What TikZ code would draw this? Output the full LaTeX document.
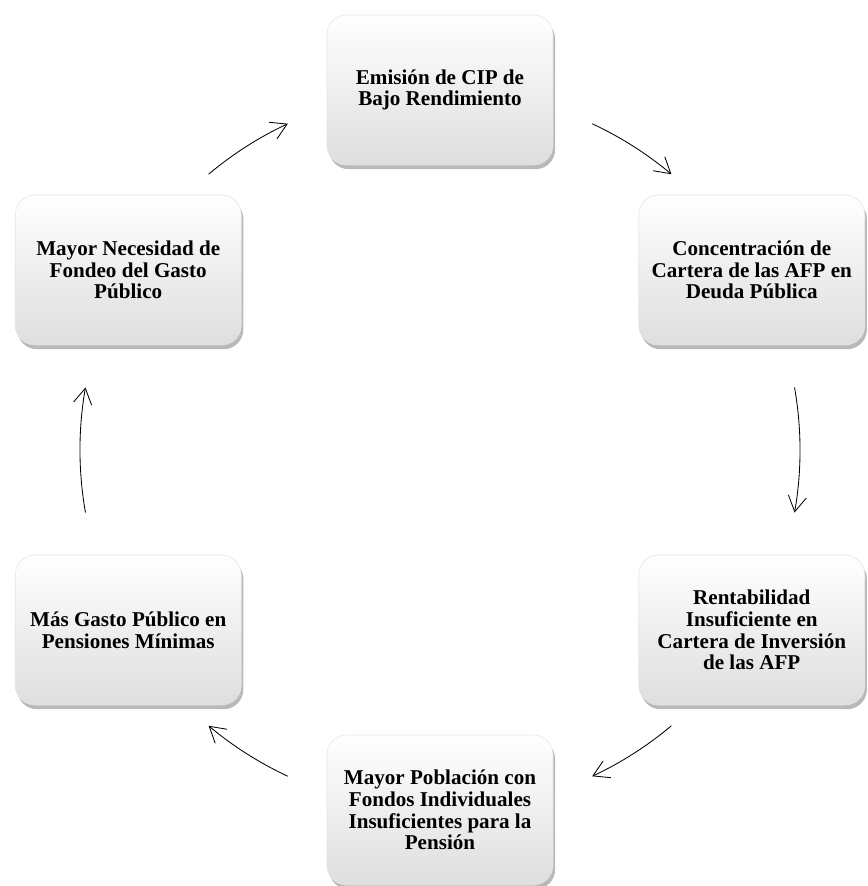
\documentclass[tikz,border=0pt]{standalone}
\usepackage{fontspec}
\setmainfont{Liberation Serif}
\usepackage{tikz}
\usetikzlibrary{arrows.meta,shadows,calc}
\definecolor{boxgray}{RGB}{222,222,222}

\begin{document}
\begin{tikzpicture}[
 stage/.style={rectangle,rounded corners=14pt,minimum width=5.65cm,minimum height=3.75cm,align=center,font=\fontsize{15}{15.5}\selectfont\bfseries,top color=white,middle color=white,bottom color=boxgray,draw=black!10,drop shadow={shadow xshift=1.5pt,shadow yshift=-3pt,opacity=.55}},
 cyc/.style={-{Straight Barb[length=11pt,width=13pt]},line width=0.6pt}]
\useasboundingbox (-11,-10.9) rectangle (10.675,11.25);
\coordinate (ctr) at (0,0);
\node[stage] (emis) at (90:9) {Emisión de CIP de\\Bajo Rendimiento};
\node[stage] (conc) at (30:9) {Concentración de\\Cartera de las AFP en\\Deuda Pública};
\node[stage] (rent) at (-30:9) {Rentabilidad\\Insuficiente en\\Cartera de Inversión\\de las AFP};
\node[stage] (pobl) at (-90:9) {Mayor Población con\\Fondos Individuales\\Insuficientes para la\\Pensión};
\node[stage] (gasto) at (-150:9) {Más Gasto Público en\\Pensiones Mínimas};
\node[stage] (fondeo) at (150:9) {Mayor Necesidad de\\Fondeo del Gasto\\Público};
\foreach \a/\b in {130/115,65/50,10/-10,-50/-65,-115/-130,-170/-190}
  \draw[cyc] ($(ctr)+(\a:9)$) arc[start angle=\a,end angle=\b,radius=9];
\end{tikzpicture}
\end{document}
